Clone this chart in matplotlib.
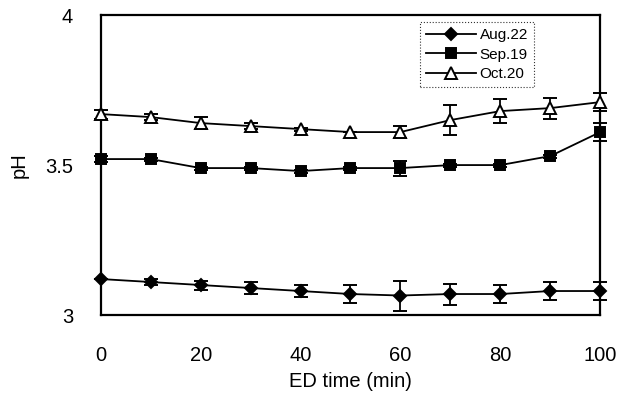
import matplotlib
matplotlib.use("Agg")
import matplotlib.pyplot as plt

plt.rcParams["font.family"] = ["Liberation Sans", "DejaVu Sans"]

# ED time (min)
time = [0, 10, 20, 30, 40, 50, 60, 70, 80, 90, 100]

# pH per sampling date
aug22 = [3.12, 3.11, 3.10, 3.09, 3.08, 3.07, 3.065, 3.07, 3.07, 3.08, 3.08]
sep19 = [3.52, 3.52, 3.49, 3.49, 3.48, 3.49, 3.49, 3.50, 3.50, 3.53, 3.61]
oct20 = [3.67, 3.66, 3.64, 3.63, 3.62, 3.61, 3.61, 3.65, 3.68, 3.69, 3.71]

# error bars
aug22_err = [0.0, 0.01, 0.015, 0.02, 0.02, 0.03, 0.05, 0.035, 0.03, 0.03, 0.03]
sep19_err = [0.01, 0.005, 0.005, 0.005, 0.005, 0.005, 0.025, 0.005, 0.005, 0.005, 0.03]
oct20_err = [0.015, 0.01, 0.02, 0.01, 0.005, 0.0, 0.02, 0.05, 0.04, 0.035, 0.03]

series = [
    ("Aug.22", aug22, aug22_err, "D", "black", 6.5),
    ("Sep.19", sep19, sep19_err, "s", "black", 7),
    ("Oct.20", oct20, oct20_err, "^", "white", 8),
]

fig = plt.figure(figsize=(6.22, 3.98), dpi=100)
ax = fig.add_axes([0.162, 0.2085, 0.803, 0.7535])

for label, vals, errs, marker, face, ms in series:
    ax.errorbar(
        time,
        vals,
        yerr=errs,
        color="black",
        linewidth=1.3,
        marker=marker,
        markersize=ms,
        markerfacecolor=face,
        markeredgecolor="black",
        markeredgewidth=1.4,
        capsize=5,
        elinewidth=1.3,
        capthick=1.6,
        label=label,
        clip_on=False,
        zorder=3,
    )

ax.set_xlim(0, 100)
ax.set_ylim(3, 4)
ax.set_xticks([0, 20, 40, 60, 80, 100])
ax.set_yticks([3, 3.5, 4])
ax.set_yticklabels(["3", "3.5", "4"])
ax.tick_params(axis="both", length=0, labelsize=14.5)
ax.tick_params(axis="x", pad=22)
ax.tick_params(axis="y", pad=20)

for spine in ax.spines.values():
    spine.set_linewidth(1.6)

ax.set_xlabel("ED time (min)", fontsize=14.5, labelpad=5)
ax.set_ylabel("pH", fontsize=14.5, labelpad=12)

handles, labels = ax.get_legend_handles_labels()
handles = [h[0] for h in handles]
leg = ax.legend(
    handles,
    labels,
    loc="upper left",
    bbox_to_anchor=(0.639, 0.977),
    fontsize=11,
    frameon=True,
    fancybox=False,
    handlelength=3.3,
    handletextpad=0.2,
    borderpad=0.4,
    labelspacing=0.36,
    borderaxespad=0,
)
leg.get_frame().set_edgecolor("black")
leg.get_frame().set_linestyle(":")
leg.get_frame().set_linewidth(0.8)

fig.savefig("out.png", dpi=100)
